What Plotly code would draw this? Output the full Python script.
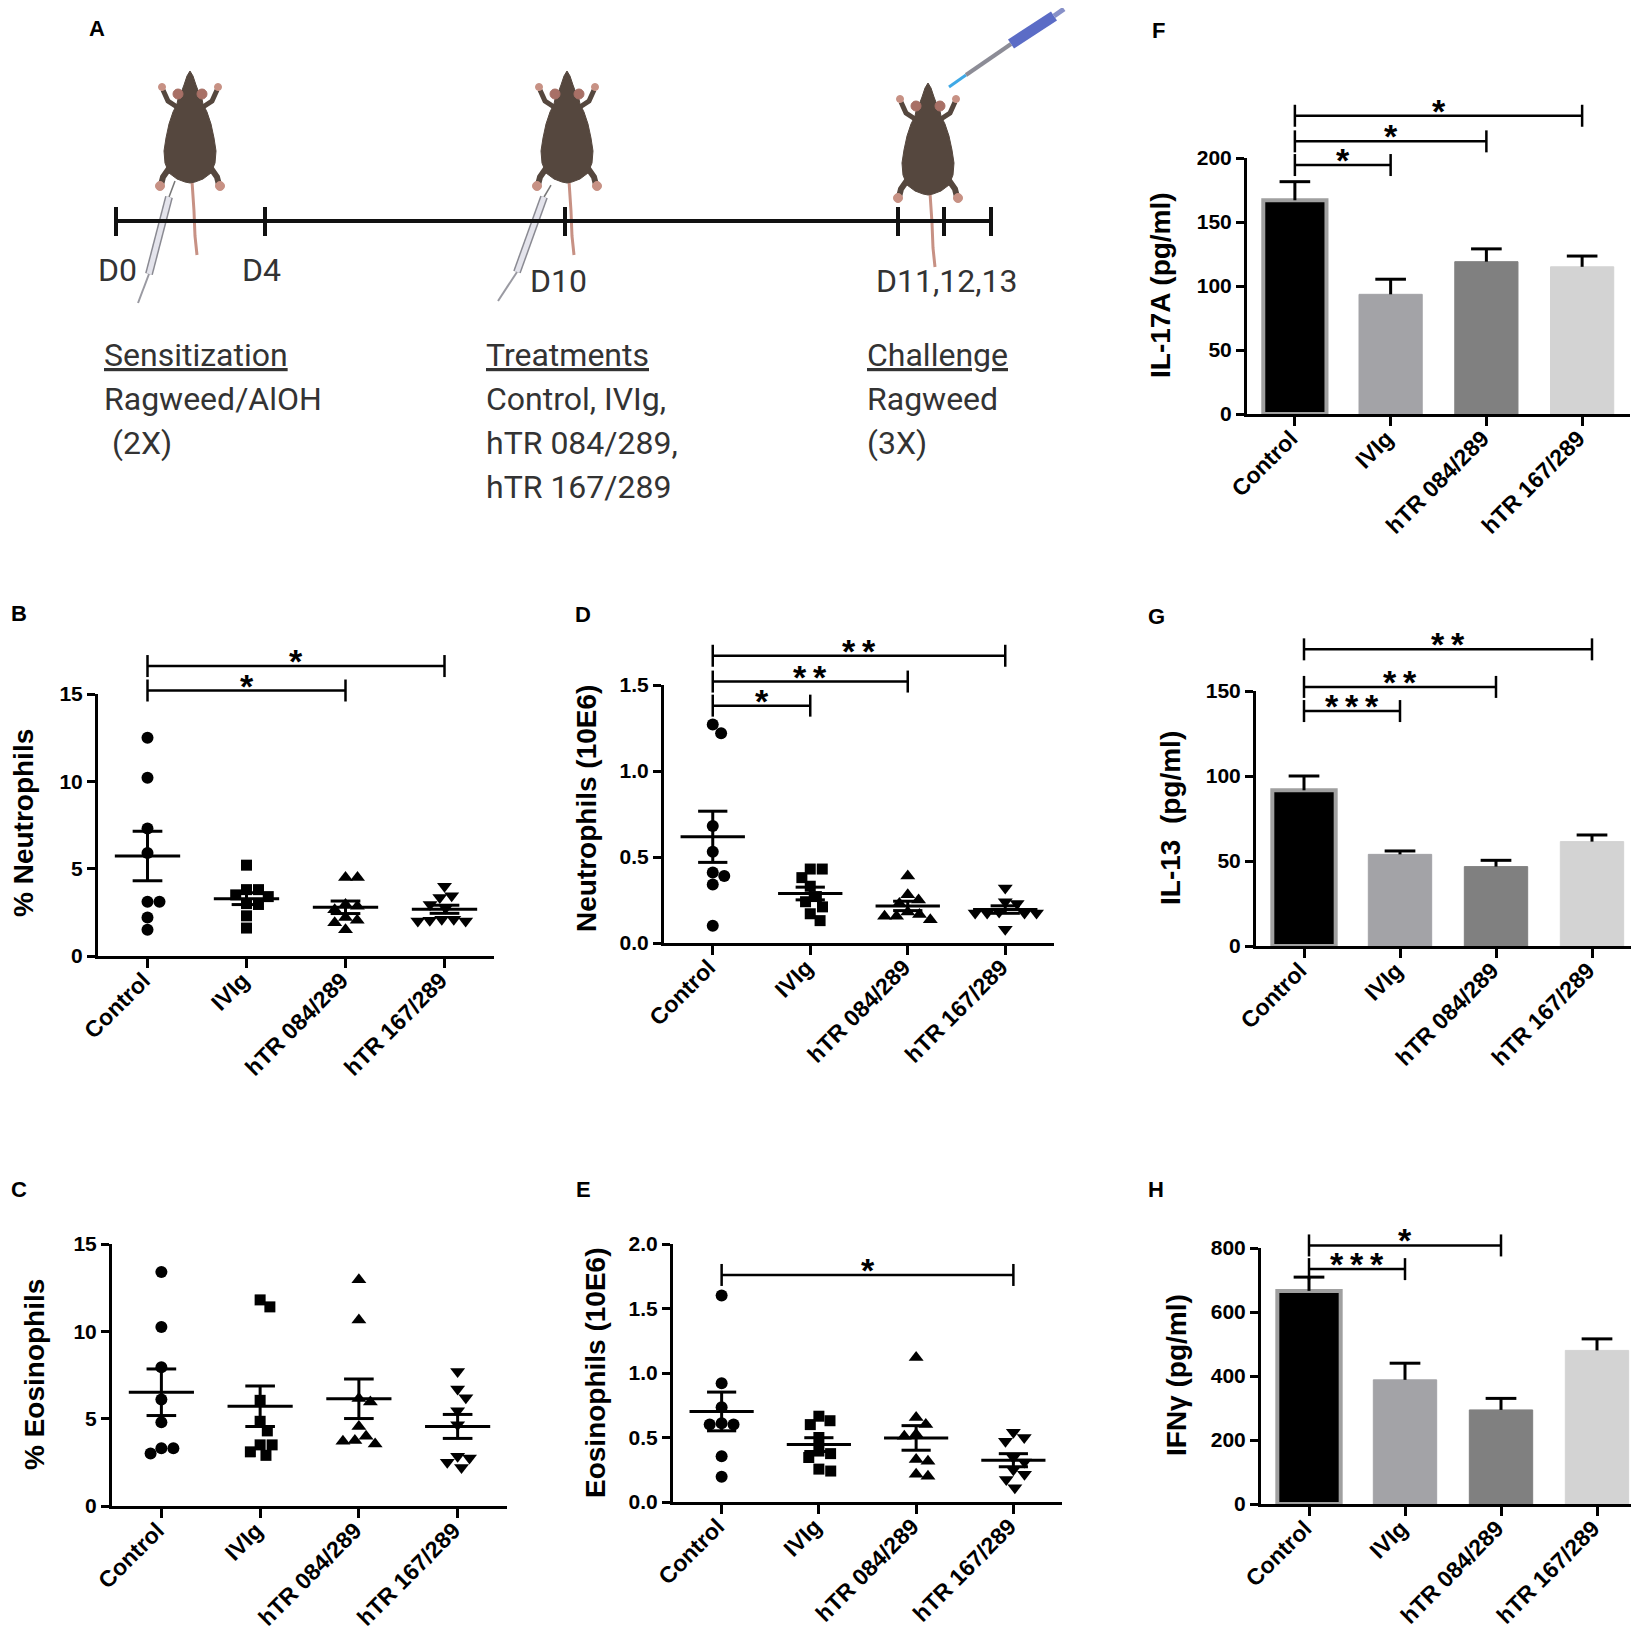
import numpy as np
import plotly.graph_objects as go

W, H = 1639, 1632

groups = ["Control", "IVIg", "hTR 084/289", "hTR 167/289"]
symbols = ["circle", "square", "triangle-up", "triangle-down"]
msizes = [12, 11, 13, 13]

# B: % neutrophils
b_ctrl = [12.5, 10.2, 7.3, 5.9, 3.1, 3.1, 2.2, 1.5]
b_ivig = [5.2, 3.8, 3.8, 3.5, 3.4, 3.0, 2.95, 2.3, 1.6]
b_084 = [4.5, 4.5, 2.95, 2.85, 2.65, 2.2, 2.05, 1.9, 1.5]
b_167 = [4.0, 3.45, 3.35, 2.95, 2.75, 2.1, 2.1, 2.05, 2.0, 2.0]

# C: % eosinophils
c_ctrl = [13.4, 10.25, 7.95, 6.1, 4.8, 3.3, 3.3, 3.0]
c_ivig = [11.8, 11.4, 6.05, 4.85, 4.3, 3.5, 3.5, 3.1, 2.9]
c_084 = [12.95, 10.65, 6.15, 5.95, 4.55, 4.0, 3.75, 3.7, 3.55]
c_167 = [7.7, 6.7, 6.2, 5.45, 4.65, 2.85, 2.75, 2.5, 2.2]

# D: neutrophils (10E6)
d_ctrl = [1.27, 1.22, 0.68, 0.53, 0.41, 0.39, 0.34, 0.10]
d_ivig = [0.43, 0.43, 0.38, 0.33, 0.27, 0.24, 0.21, 0.17, 0.13]
d_084 = [0.39, 0.28, 0.25, 0.23, 0.18, 0.165, 0.155, 0.155, 0.135]
d_167 = [0.32, 0.24, 0.23, 0.18, 0.175, 0.175, 0.175, 0.175, 0.08]

# E: eosinophils (10E6)
e_ctrl = [1.60, 0.92, 0.735, 0.61, 0.60, 0.60, 0.355, 0.195]
e_ivig = [0.665, 0.63, 0.60, 0.50, 0.395, 0.375, 0.345, 0.255, 0.24]
e_084 = [1.12, 0.655, 0.60, 0.525, 0.51, 0.33, 0.315, 0.215, 0.20]
e_167 = [0.54, 0.50, 0.47, 0.345, 0.31, 0.25, 0.215, 0.175, 0.11]

# F-H: cytokines, mean and SEM
f_mean = [167, 93.5, 119, 115]
f_sem = [14.5, 11.8, 10, 8.4]
g_mean = [91.6, 53.9, 46.7, 61.4]
g_sem = [8.4, 2.0, 3.7, 3.9]
h_mean = [666, 388, 294, 480]
h_sem = [43, 52, 36, 36]

bar_colors = ["#000000", "#a3a3a7", "#808080", "#d3d3d3"]

# significance brackets: (from, to, level, label)
b_sig = [(0, 2, 15.2, "*"), (0, 3, 16.6, "*")]
d_sig = [(0, 1, 1.38, "*"), (0, 2, 1.52, "**"), (0, 3, 1.67, "**")]
e_sig = [(0, 3, 1.76, "*")]
f_sig = [(0, 1, 194.5, "*"), (0, 2, 213, "*"), (0, 3, 233, "*")]
g_sig = [(0, 1, 138.2, "***"), (0, 2, 152.4, "**"), (0, 3, 174.5, "**")]
h_sig = [(0, 1, 734, "***"), (0, 2, 808, "*")]

FONT = "Liberation Sans, Arial, sans-serif"

# panel boxes in pixels: x from/to, y of zero / y of top tick
panels = [
    dict(name="B", x=(90, 486), y=(948, 686), rng=(0, 15), dtick=5, fmt="d",
         title="% Neutrophils", tx=15, ty=815, lx=11, ly=605,
         dots=[b_ctrl, b_ivig, b_084, b_167], sig=b_sig),
    dict(name="C", x=(104, 499), y=(1498, 1236), rng=(0, 15), dtick=5, fmt="d",
         title="% Eosinophils", tx=26, ty=1367, lx=11, ly=1181,
         dots=[c_ctrl, c_ivig, c_084, c_167], sig=[]),
    dict(name="D", x=(656, 1046), y=(935, 677), rng=(0, 1.5), dtick=0.5, fmt=".1f",
         title="Neutrophils (10E6)", tx=579, ty=801, lx=575, ly=606,
         dots=[d_ctrl, d_ivig, d_084, d_167], sig=d_sig),
    dict(name="E", x=(665, 1054), y=(1494, 1236), rng=(0, 2.0), dtick=0.5, fmt=".1f",
         title="Eosinophils (10E6)", tx=587, ty=1365, lx=575, ly=1181,
         dots=[e_ctrl, e_ivig, e_084, e_167], sig=e_sig),
    dict(name="F", x=(1239, 1622), y=(406, 150), rng=(0, 200), dtick=50, fmt="d",
         title="IL-17A (pg/ml)", tx=1153, ty=277, lx=1150, ly=23,
         bars=(f_mean, f_sem), sig=f_sig),
    dict(name="G", x=(1248, 1632), y=(938, 683), rng=(0, 150), dtick=50, fmt="d",
         title="IL-13\u00a0\u00a0(pg/ml)", tx=1162, ty=810, lx=1148, ly=608,
         bars=(g_mean, g_sem), sig=g_sig),
    dict(name="H", x=(1253, 1637), y=(1496, 1240), rng=(0, 800), dtick=200, fmt="d",
         title="IFN\u03b3 (pg/ml)", tx=1168, ty=1367, lx=1148, ly=1181,
         bars=(h_mean, h_sem), sig=h_sig),
]


def px(x, y):
    return x / W, 1 - y / H


def swarm(vals, ppu, ppc, d=12.0):
    # simple beeswarm: each point goes to the free spot nearest the centre
    order = sorted(range(len(vals)), key=lambda i: -vals[i])
    placed = []
    offs = [0.0] * len(vals)
    for i in order:
        y = vals[i] * ppu
        cands = [0.0]
        for (qx, qy) in placed:
            dy = abs(y - qy)
            if dy < d:
                r = np.sqrt(d * d - dy * dy)
                cands += [qx + r, qx - r]
        cands.sort(key=lambda c: (abs(c), -c))
        for c in cands:
            if all((c - qx) ** 2 + (y - qy) ** 2 >= d * d * 0.98 for qx, qy in placed):
                break
        placed.append((c, y))
        offs[i] = c / ppc
    return offs


def note(x, y, text, size, family=FONT, color="black", xanchor="center", **kw):
    return dict(x=x / W, y=1 - y / H, xref="paper", yref="paper", text=text,
                showarrow=False, xanchor=xanchor, yanchor="middle",
                font=dict(family=family, size=size, color=color), **kw)


fig = go.Figure()
shapes = []
annotations = []
ytick_font = dict(family=FONT, size=21, color="black", weight="bold")
xtick_font = dict(family=FONT, size=23, color="black", weight="bold")

for k, p in enumerate(panels, start=1):
    sfx = "" if k == 1 else str(k)
    xa, ya = "x" + sfx, "y" + sfx
    x0, x1 = p["x"]
    yb, yt = p["y"]
    r0, r1 = p["rng"]
    ppu = (yb - yt) / (r1 - r0)
    ppc = (x1 - x0) / 4.0

    fig.layout["xaxis" + sfx] = dict(
        domain=[x0 / W, x1 / W], range=[-0.5, 3.5], anchor=ya, automargin=False,
        tickmode="array", tickvals=[0, 1, 2, 3], ticktext=groups, tickangle=-45,
        ticklabelstandoff=-10, ticklabelshift=-4,
        showline=True, linecolor="black", linewidth=3, ticks="outside",
        ticklen=9, tickwidth=3, tickcolor="black", showgrid=False, zeroline=False,
        tickfont=xtick_font)
    tv = list(np.arange(r0, r1 + p["dtick"] / 2, p["dtick"]))
    tt = [format(v, p["fmt"]) if p["fmt"] != "d" else str(int(round(v))) for v in tv]
    fig.layout["yaxis" + sfx] = dict(
        domain=[1 - yb / H, 1 - yt / H], range=[r0, r1], anchor=xa, automargin=False,
        tickmode="array", tickvals=tv, ticktext=tt,
        showline=True, linecolor="black", linewidth=3, ticks="outside",
        ticklen=8, tickwidth=3, tickcolor="black", showgrid=False, zeroline=False,
        tickfont=ytick_font)

    if "dots" in p:
        lx, ly = [], []
        for i, vals in enumerate(p["dots"]):
            offs = swarm(vals, ppu, ppc)
            fig.add_trace(go.Scatter(
                x=[i + o for o in offs], y=vals, mode="markers", xaxis=xa, yaxis=ya,
                cliponaxis=False, showlegend=False,
                marker=dict(symbol=symbols[i], size=msizes[i], color="black")))
            m = float(np.mean(vals))
            s = float(np.std(vals, ddof=1) / np.sqrt(len(vals)))
            lx += [i - 0.33, i + 0.33, None, i, i, None,
                   i - 0.15, i + 0.15, None, i - 0.15, i + 0.15, None]
            ly += [m, m, None, m - s, m + s, None,
                   m + s, m + s, None, m - s, m - s, None]
        fig.add_trace(go.Scatter(
            x=lx, y=ly, mode="lines", xaxis=xa, yaxis=ya, showlegend=False,
            line=dict(color="black", width=3)))
    else:
        means, sems = p["bars"]
        fig.add_trace(go.Bar(
            x=[0, 1, 2, 3], y=means, width=0.66, xaxis=xa, yaxis=ya, showlegend=False,
            marker=dict(color=bar_colors,
                        line=dict(color=["#a0a0a0"] + bar_colors[1:], width=[4, 1, 1, 1]))))
        ex, ey = [], []
        for i, (m, s) in enumerate(zip(means, sems)):
            ex += [i, i, None, i - 0.16, i + 0.16, None]
            ey += [m, m + s, None, m + s, m + s, None]
        fig.add_trace(go.Scatter(
            x=ex, y=ey, mode="lines", xaxis=xa, yaxis=ya, showlegend=False,
            line=dict(color="black", width=3)))

    # significance brackets
    for (i, j, lev, lab) in p["sig"]:
        ypx = yb - (lev - r0) * ppu
        yp = 1 - ypx / H
        tk = 11 / H
        for (a0, a1, b0, b1) in [(i, j, yp, yp), (i, i, yp - tk, yp + tk), (j, j, yp - tk, yp + tk)]:
            shapes.append(dict(type="line", xref=xa, yref="paper", x0=a0, x1=a1, y0=b0, y1=b1,
                               line=dict(color="black", width=2.5)))
        annotations.append(dict(x=(i + j) / 2, y=yp, xref=xa, yref="paper",
                                text="<b>%s</b>" % "\u2009".join(lab), showarrow=False,
                                xanchor="center", yanchor="bottom", yshift=-16,
                                font=dict(family=FONT, size=34, color="black")))

    annotations.append(note(p["tx"], p["ty"], "<b>%s</b>" % p["title"], 28, textangle=-90))
    annotations.append(note(p["lx"], p["ly"], "<b>%s</b>" % p["name"], 22))

# ---- panel A: timeline schematic ----
annotations.append(note(89, 21, "<b>A</b>", 22))


def pline(pts, color, width):
    d = "M " + " L ".join("%.5f,%.5f" % px(x, y) for x, y in pts)
    return dict(type="path", xref="paper", yref="paper", path=d,
                line=dict(color=color, width=width))


def pblob(pts, color):
    d = "M " + " L ".join("%.5f,%.5f" % px(x, y) for x, y in pts) + " Z"
    return dict(type="path", xref="paper", yref="paper", path=d, fillcolor=color,
                line=dict(color=color, width=1))


def pcirc(cx, cy, r, color):
    a0, b0 = px(cx - r, cy + r)
    a1, b1 = px(cx + r, cy - r)
    return dict(type="circle", xref="paper", yref="paper", x0=a0, x1=a1, y0=b0, y1=b1,
                fillcolor=color, line=dict(color=color, width=1))


FUR = "#55473e"
PINK = "#c79184"
half = [(0, 0), (3, 5), (6, 14), (9, 22), (12, 28), (13, 33), (17, 41), (21, 53),
        (24, 67), (26, 80), (25, 92), (21, 102), (13, 108), (5, 111), (0, 112)]


def mouse(cx, ny):
    out = []
    out.append(pline([(cx + 2, ny + 110), (cx + 4, ny + 140), (cx + 5, ny + 165), (cx + 7, ny + 184)],
                     PINK, 3))
    for sgn in (1, -1):
        out.append(pline([(cx + sgn * 20, ny + 96), (cx + sgn * 27, ny + 106), (cx + sgn * 29, ny + 114)],
                         FUR, 6))
        out.append(pcirc(cx + sgn * 30, ny + 115, 4.5, PINK))
        out.append(pline([(cx + sgn * 13, ny + 36), (cx + sgn * 22, ny + 30), (cx + sgn * 27, ny + 19)],
                         FUR, 5))
        out.append(pcirc(cx + sgn * 28, ny + 16, 3.5, PINK))
    outline = [(cx + u, ny + v) for u, v in half] + [(cx - u, ny + v) for u, v in reversed(half)]
    out.append(pblob(outline, FUR))
    for sgn in (1, -1):
        out.append(pcirc(cx + sgn * 12, ny + 23, 5, "#a87066"))
    return out


for cx, ny in [(182, 63), (559, 63), (920, 75)]:
    shapes += mouse(cx, ny)


def syringe(top, b0, b1, bottom):
    return [pline([top, b0], "#777777", 1.5),
            pline([b0, b1], "#8a8a92", 8),
            pline([b0, b1], "#e4e4ec", 5),
            pline([b1, bottom], "#9a9aa2", 2)]


shapes += syringe((167, 173), (161, 189), (141, 266), (130, 295))
shapes += syringe((543, 177), (536, 189), (509, 264), (490, 293))

# pipette
shapes += [pline([(941, 79), (958, 67)], "#3fa9e6", 3),
           pline([(958, 67), (1003, 36)], "#8c8c96", 4),
           pline([(1003, 36), (1046, 8)], "#5b6cc6", 11),
           pline([(1046, 8), (1056, 1)], "#8790c8", 5)]

# timeline
shapes.append(pline([(108, 213), (983, 213)], "#111111", 4))
for tx in [108, 257, 557, 890, 936, 983]:
    shapes.append(pline([(tx, 199), (tx, 228)], "#111111", 4))

TL = "Roboto, sans-serif"
for txt, cx, cy in [("D0", 109, 262), ("D4", 254, 262), ("D10", 550, 273), ("D11,12,13", 939, 273)]:
    annotations.append(note(cx, cy, txt, 32, family=TL, color="#333333"))

blocks = [
    (94, ["<u>Sensitization</u>", "Ragweed/AlOH", "\u00a0(2X)"]),
    (476, ["<u>Treatments</u>", "Control, IVIg,", "hTR 084/289,", "hTR 167/289"]),
    (857, ["<u>Challenge</u>", "Ragweed", "(3X)"]),
]
for lx, lines in blocks:
    for n, txt in enumerate(lines):
        annotations.append(note(lx, 347 + 44 * n, txt, 32, family=TL, color="#333333",
                                xanchor="left"))

fig.update_layout(width=W, height=H,
                  margin=dict(l=0, r=0, t=0, b=0, pad=0, autoexpand=False),
                  paper_bgcolor="white", plot_bgcolor="white",
                  shapes=shapes, annotations=annotations, showlegend=False,
                  font=dict(family=FONT, color="black"))

fig.write_html("out.html", config={"displayModeBar": False})
